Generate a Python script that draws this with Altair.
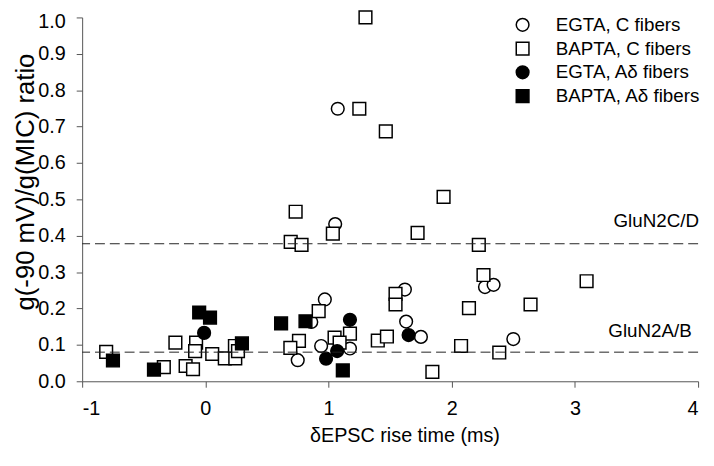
import altair as alt
import pandas as pd

# ---- data ----
groups = ["EGTA, C fibers", "BAPTA, C fibers", "EGTA, Aδ fibers", "BAPTA, Aδ fibers"]

egta_c_x = [1.075, 1.054, 0.97, 0.86, 0.94, 1.174, 0.75, 1.62, 1.63, 1.75, 2.27, 2.34, 2.50]
egta_c_y = [0.749, 0.432, 0.225, 0.163, 0.097, 0.090, 0.058, 0.252, 0.164, 0.122, 0.259, 0.265, 0.116]

bapta_c_x = [1.30, 1.25, 1.465, 1.934, 0.733, 1.035, 0.693, 0.781, 1.723, 2.22, 2.258, 3.095, 2.64,
             2.14, 1.544, 1.544, 2.076, 2.386, 1.843, 1.40, 1.474, 0.92, 1.174, 1.049, 1.09, 0.76,
             0.69, -0.805, -0.337, -0.243, -0.16, -0.10, -0.075, -0.083, 0.056, 0.158, 0.243, 0.24, 0.265]
bapta_c_y = [1.0, 0.749, 0.687, 0.507, 0.466, 0.406, 0.383, 0.375, 0.408, 0.375, 0.292, 0.275, 0.211,
             0.201, 0.240, 0.211, 0.097, 0.079, 0.026, 0.112, 0.123, 0.193, 0.131, 0.120, 0.106, 0.111,
             0.092, 0.081, 0.039, 0.106, 0.042, 0.033, 0.106, 0.083, 0.075, 0.063, 0.063, 0.097, 0.083]

egta_a_x = [-0.01, 1.174, 1.07, 0.98, 1.65]
egta_a_y = [0.133, 0.169, 0.083, 0.062, 0.127]

bapta_a_x = [-0.75, -0.417, -0.05, 0.038, 0.297, 0.615, 0.813, 1.116]
bapta_a_y = [0.057, 0.032, 0.189, 0.175, 0.104, 0.159, 0.165, 0.030]

x_ticks = [-1, 0, 1, 2, 3, 4]
y_ticks = [0.0, 0.1, 0.2, 0.3, 0.4, 0.5, 0.6, 0.7, 0.8, 0.9, 1.0]

ref_values = [0.378, 0.08]
ref_labels = ["GluN2C/D", "GluN2A/B"]
ref_label_x = [3.66, 3.61]
ref_label_y = [0.44, 0.137]

# ---- build table (draw order: open circles, open squares, filled circles, filled squares) ----
rows = []
for g, xs, ys in [(groups[0], egta_c_x, egta_c_y), (groups[1], bapta_c_x, bapta_c_y),
                  (groups[2], egta_a_x, egta_a_y), (groups[3], bapta_a_x, bapta_a_y)]:
    for a, b in zip(xs, ys):
        rows.append({"x": a, "y": b, "group": g})
df = pd.DataFrame(rows)
ref_df = pd.DataFrame({"v": ref_values})
lab_df = pd.DataFrame({"x": ref_label_x, "y": ref_label_y, "t": ref_labels})

FONT = "Liberation Sans"

xscale = alt.Scale(domain=[-1, 4], nice=False, zero=False)
yscale = alt.Scale(domain=[0, 1], nice=False, zero=True)

xaxis = alt.Axis(values=x_ticks, title="δEPSC rise time (ms)", labelExpr="'' + datum.value",
                 titleX=326, titleY=55, titleBaseline="middle", titleAlign="center")
yaxis = alt.Axis(values=y_ticks, title="g(-90 mV)/g(MIC) ratio",
                 labelExpr="format(datum.value, '.1f')",
                 labelOverlap=False, labelBound=False,
                 labelOffset={"condition": {"test": "datum.value >= 0.99", "value": 4}, "value": 0},
                 titleX=-57, titleY=166, titleAngle=-90,
                 titleBaseline="middle", titleAlign="center", titleFontSize=26)

leg = alt.Legend(title=None, orient="none", legendX=436, legendY=-2)

points = alt.Chart(df).mark_point(filled=True, strokeWidth=1.5, opacity=1, size=165).encode(
    x=alt.X("x:Q", scale=xscale, axis=xaxis),
    y=alt.Y("y:Q", scale=yscale, axis=yaxis),
    shape=alt.Shape("group:N", scale=alt.Scale(domain=groups, range=["circle", "square", "circle", "square"]),
                    legend=leg),
    fill=alt.Fill("group:N", scale=alt.Scale(domain=groups, range=["white", "white", "black", "black"]),
                  legend=leg),
    stroke=alt.Stroke("group:N", scale=alt.Scale(domain=groups, range=["black", "black", "black", "black"]),
                      legend=leg),
)

rules = alt.Chart(ref_df).mark_rule(color="#222222", strokeWidth=1, strokeDash=[10, 5]).encode(
    y=alt.Y("v:Q", scale=yscale, axis=yaxis)
)

labels = alt.Chart(lab_df).mark_text(font=FONT, fontSize=19, color="black", align="center", baseline="middle").encode(
    x=alt.X("x:Q", scale=xscale, axis=xaxis), y=alt.Y("y:Q", scale=yscale, axis=yaxis), text="t:N"
)

chart = alt.layer(points, rules, labels).properties(
    width=623, height=368,
    autosize=alt.AutoSizeParams(type="none"),
    padding={"left": 75, "top": 7, "right": 8, "bottom": 70},
).configure_view(stroke=None).configure_axis(
    labelFont=FONT, titleFont=FONT, labelFontSize=20, titleFontSize=20, titleFontWeight="normal",
    labelColor="black", titleColor="black", domainColor="#555555", tickColor="#555555",
    tickSize=6, grid=False,
).configure_axisY(labelPadding=11, labelOverlap=False).configure_axisX(labelPadding=12).configure_legend(
    labelFont=FONT, labelFontSize=19, labelColor="black", symbolSize=165, symbolStrokeWidth=1.5,
    rowPadding=4, labelOffset=24, padding=0,
)

chart.save("out.html", embed_options={"renderer": "svg", "actions": False})
